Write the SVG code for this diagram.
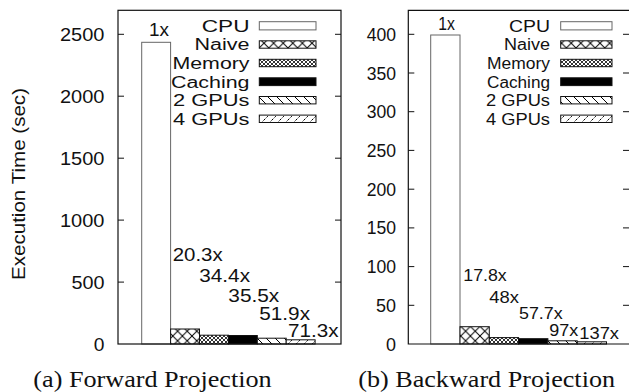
<svg xmlns="http://www.w3.org/2000/svg" width="629" height="392" viewBox="0 0 629 392">
<style>
.t{font-family:"Liberation Sans",Arial,sans-serif;font-size:19px;fill:#111}
.r{font-size:18px}
.rl{font-size:16.5px}
.lg{font-size:16px}
.e{text-anchor:end}
.cap{font-family:"Liberation Serif","Times New Roman",serif;font-size:24px;fill:#111}
.frame{fill:none;stroke:#111;stroke-width:1.2}
.tick{stroke:#111;stroke-width:1}
.cpu{fill:#fff;stroke:#666;stroke-width:1}
.bar{stroke:#111;stroke-width:1}
</style>
<defs>
<pattern id="pNaive" width="9.6" height="9.6" patternUnits="userSpaceOnUse"><rect width="9.6" height="9.6" fill="#fff"/><path d="M0 0L9.6 9.6M9.6 0L0 9.6" stroke="#000" stroke-width="1"/></pattern>
<pattern id="pMem" width="4" height="4" patternUnits="userSpaceOnUse"><rect width="4" height="4" fill="#fff"/><path d="M0 0L4 4M4 0L0 4" stroke="#000" stroke-width="0.8"/></pattern>
<pattern id="p2" width="9" height="9" patternUnits="userSpaceOnUse"><rect width="9" height="9" fill="#fff"/><path d="M0 0L9 9M-1 8L1 10M8 -1L10 1" stroke="#000" stroke-width="1"/></pattern>
<pattern id="p4" width="8" height="8" patternUnits="userSpaceOnUse"><rect width="8" height="8" fill="#fff"/><path d="M0 8L8 0M-1 1L1 -1M7 9L9 7" stroke="#000" stroke-width="1" stroke-dasharray="2 1.5"/></pattern>
</defs>
<rect width="629" height="392" fill="#fff"/>

<!-- Left chart: Forward Projection -->
<g id="chart-forward">
  <g id="fwd-axes">
    <path class="tick" d="M118 282.1h6M118 220.1h6M118 158.2h6M118 96.2h6M118 34.3h6M335 282.1h6M335 220.1h6M335 158.2h6M335 96.2h6M335 34.3h6"/>
    <text class="t e" x="104.5" y="350.5" textLength="10.7" lengthAdjust="spacingAndGlyphs">0</text>
    <text class="t e" x="104.5" y="288.6" textLength="33" lengthAdjust="spacingAndGlyphs">500</text>
    <text class="t e" x="104.5" y="226.6" textLength="44.5" lengthAdjust="spacingAndGlyphs">1000</text>
    <text class="t e" x="104.5" y="164.7" textLength="44.5" lengthAdjust="spacingAndGlyphs">1500</text>
    <text class="t e" x="104.5" y="102.7" textLength="44.5" lengthAdjust="spacingAndGlyphs">2000</text>
    <text class="t e" x="104.5" y="40.8" textLength="44.5" lengthAdjust="spacingAndGlyphs">2500</text>
    <text class="t" transform="translate(25 184) rotate(-90)" text-anchor="middle" textLength="192" lengthAdjust="spacingAndGlyphs">Execution Time (sec)</text>
  </g>
  <g id="fwd-bars">
    <rect class="cpu" x="141.7" y="42.3" width="28.9" height="301.7"/>
    <rect class="bar" fill="url(#pNaive)" x="170.6" y="329" width="28.9" height="15"/>
    <rect class="bar" fill="url(#pMem)" x="199.5" y="335.2" width="28.9" height="8.8"/>
    <rect class="bar" fill="#000" x="228.4" y="335.5" width="28.9" height="8.5"/>
    <rect class="bar" fill="url(#p2)" x="257.3" y="338.2" width="28.9" height="5.8"/>
    <rect class="bar" fill="url(#p4)" x="286.2" y="339.8" width="28.9" height="4.2"/>
  </g>
  <g id="fwd-labels">
    <text class="t" x="149" y="36" textLength="20" lengthAdjust="spacingAndGlyphs">1x</text>
    <text class="t" x="172.7" y="260.7" textLength="50" lengthAdjust="spacingAndGlyphs">20.3x</text>
    <text class="t" x="199.3" y="281.7" textLength="50.7" lengthAdjust="spacingAndGlyphs">34.4x</text>
    <text class="t" x="228.3" y="301.7" textLength="51" lengthAdjust="spacingAndGlyphs">35.5x</text>
    <text class="t" x="259.3" y="320" textLength="50.7" lengthAdjust="spacingAndGlyphs">51.9x</text>
    <text class="t" x="288" y="336.7" textLength="50.5" lengthAdjust="spacingAndGlyphs">71.3x</text>
  </g>
  <g id="fwd-legend">
    <text class="t lg e" x="249.5" y="31.7" textLength="47.7" lengthAdjust="spacingAndGlyphs">CPU</text>
    <text class="t lg e" x="249.5" y="50.3" textLength="55" lengthAdjust="spacingAndGlyphs">Naive</text>
    <text class="t lg e" x="249.5" y="68.9" textLength="77" lengthAdjust="spacingAndGlyphs">Memory</text>
    <text class="t lg e" x="249.5" y="87.5" textLength="78.5" lengthAdjust="spacingAndGlyphs">Caching</text>
    <text class="t lg e" x="249.5" y="106.1" textLength="76.5" lengthAdjust="spacingAndGlyphs">2 GPUs</text>
    <text class="t lg e" x="249.5" y="124.7" textLength="76.5" lengthAdjust="spacingAndGlyphs">4 GPUs</text>
    <rect class="cpu" x="259.3" y="21.7" width="56.7" height="8.2"/>
    <rect class="bar" fill="url(#pNaive)" x="259.3" y="40.8" width="56.7" height="7.4"/>
    <rect class="bar" fill="url(#pMem)" x="259.3" y="59.3" width="56.7" height="7.4"/>
    <rect class="bar" fill="#000" x="259.3" y="77.8" width="56.7" height="7.8"/>
    <rect class="bar" fill="url(#p2)" x="259.3" y="96.5" width="56.7" height="7.4"/>
    <rect class="bar" fill="url(#p4)" x="259.3" y="115.1" width="56.7" height="7.4"/>
  </g>
  <rect class="frame" x="118" y="10.3" width="223" height="333.7"/>
  <text class="cap" x="33.3" y="386.7" textLength="238.4" lengthAdjust="spacingAndGlyphs">(a) Forward Projection</text>
</g>

<!-- Right chart: Backward Projection -->
<g id="chart-backward">
  <g id="bwd-axes">
    <path class="tick" d="M408.3 305.3h6M408.3 266.6h6M408.3 227.9h6M408.3 189.2h6M408.3 150.4h6M408.3 111.7h6M408.3 73h6M408.3 34.3h6M623 305.3h7M623 266.6h7M623 227.9h7M623 189.2h7M623 150.4h7M623 111.7h7M623 73h7M623 34.3h7"/>
    <text class="t r e" x="396" y="350.5" textLength="10" lengthAdjust="spacingAndGlyphs">0</text>
    <text class="t r e" x="396" y="311.8" textLength="20" lengthAdjust="spacingAndGlyphs">50</text>
    <text class="t r e" x="396" y="273.1" textLength="29.3" lengthAdjust="spacingAndGlyphs">100</text>
    <text class="t r e" x="396" y="234.4" textLength="29.3" lengthAdjust="spacingAndGlyphs">150</text>
    <text class="t r e" x="396" y="195.7" textLength="29.3" lengthAdjust="spacingAndGlyphs">200</text>
    <text class="t r e" x="396" y="156.9" textLength="29.3" lengthAdjust="spacingAndGlyphs">250</text>
    <text class="t r e" x="396" y="118.2" textLength="29.3" lengthAdjust="spacingAndGlyphs">300</text>
    <text class="t r e" x="396" y="79.5" textLength="29.3" lengthAdjust="spacingAndGlyphs">350</text>
    <text class="t r e" x="396" y="40.8" textLength="29.3" lengthAdjust="spacingAndGlyphs">400</text>
  </g>
  <g id="bwd-bars">
    <rect class="cpu" x="430.7" y="35" width="29.3" height="309"/>
    <rect class="bar" fill="url(#pNaive)" x="460" y="326.7" width="29.3" height="17.3"/>
    <rect class="bar" fill="url(#pMem)" x="489.3" y="337.6" width="29.3" height="6.4"/>
    <rect class="bar" fill="#000" x="518.6" y="338.7" width="29.3" height="5.3"/>
    <rect class="bar" fill="url(#p2)" x="547.9" y="340.8" width="29.3" height="3.2"/>
    <rect class="bar" fill="url(#p4)" x="577.2" y="341.8" width="29.3" height="2.2"/>
  </g>
  <g id="bwd-labels">
    <text class="t r" x="438.3" y="30" textLength="16.7" lengthAdjust="spacingAndGlyphs">1x</text>
    <text class="t rl" x="463.3" y="280.7" textLength="43.4" lengthAdjust="spacingAndGlyphs">17.8x</text>
    <text class="t rl" x="489.3" y="303.3" textLength="29.7" lengthAdjust="spacingAndGlyphs">48x</text>
    <text class="t rl" x="519" y="319" textLength="43.7" lengthAdjust="spacingAndGlyphs">57.7x</text>
    <text class="t rl" x="549.3" y="335.5" textLength="29" lengthAdjust="spacingAndGlyphs">97x</text>
    <text class="t rl" x="579.3" y="339" textLength="39.7" lengthAdjust="spacingAndGlyphs">137x</text>
  </g>
  <g id="bwd-legend">
    <text class="t lg e" x="550" y="31.7" textLength="41" lengthAdjust="spacingAndGlyphs">CPU</text>
    <text class="t lg e" x="550" y="50.3" textLength="46" lengthAdjust="spacingAndGlyphs">Naive</text>
    <text class="t lg e" x="550" y="68.9" textLength="63" lengthAdjust="spacingAndGlyphs">Memory</text>
    <text class="t lg e" x="550" y="87.5" textLength="63" lengthAdjust="spacingAndGlyphs">Caching</text>
    <text class="t lg e" x="550" y="106.1" textLength="64" lengthAdjust="spacingAndGlyphs">2 GPUs</text>
    <text class="t lg e" x="550" y="124.7" textLength="64" lengthAdjust="spacingAndGlyphs">4 GPUs</text>
    <rect class="cpu" x="560.7" y="21.7" width="51.3" height="8.2"/>
    <rect class="bar" fill="url(#pNaive)" x="560.7" y="40.8" width="51.3" height="7.4"/>
    <rect class="bar" fill="url(#pMem)" x="560.7" y="59.3" width="51.3" height="7.4"/>
    <rect class="bar" fill="#000" x="560.7" y="77.8" width="51.3" height="7.8"/>
    <rect class="bar" fill="url(#p2)" x="560.7" y="96.5" width="51.3" height="7.4"/>
    <rect class="bar" fill="url(#p4)" x="560.7" y="115.1" width="51.3" height="7.4"/>
  </g>
  <path class="frame" d="M632 10.3H408.3V344H632"/>
  <text class="cap" x="358.3" y="386.7" textLength="256.7" lengthAdjust="spacingAndGlyphs">(b) Backward Projection</text>
</g>
</svg>
